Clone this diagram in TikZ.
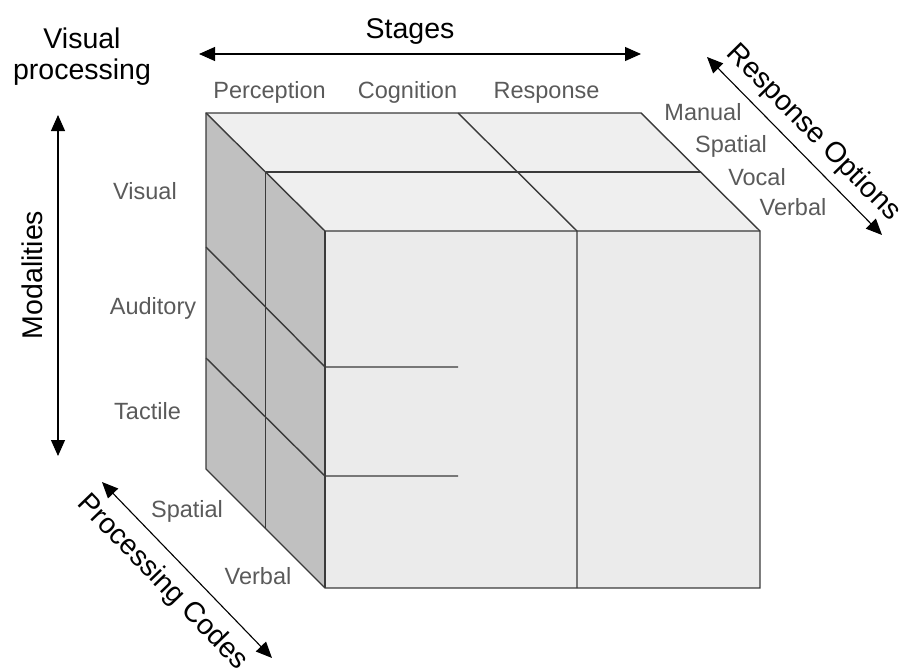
\documentclass[tikz,border=0pt]{standalone}
\usepackage{fontspec}
\setmainfont{Liberation Sans}
\usetikzlibrary{arrows.meta}
\definecolor{cubeline}{HTML}{3A3A3A}
\definecolor{labelgray}{HTML}{5A5A5A}
\definecolor{topface}{HTML}{EFEFEF}
\definecolor{sideface}{HTML}{C0C0C0}
\definecolor{frontface}{HTML}{EBEBEB}
\begin{document}
\begin{tikzpicture}[x=1pt,y=-1pt,
  edge/.style={draw=cubeline, line width=1.4pt, line join=miter},
  axis/.style={draw=black, line width=1.1pt,
    {Triangle[length=16pt,width=14pt]}-{Triangle[length=16pt,width=14pt]}},
  axislabel/.style={font=\fontsize{28.5}{31}\selectfont, text=black, inner sep=0pt},
  itemlabel/.style={font=\fontsize{23.5}{26}\selectfont, text=labelgray, anchor=base, inner sep=0pt}]
\useasboundingbox (0,0) rectangle (901,669);

% cube corners
\coordinate (B1) at (206,113);
\coordinate (B2) at (641,113);
\coordinate (F1) at (325,231);
\coordinate (F2) at (760,231);
\coordinate (F3) at (760,588);
\coordinate (F4) at (325,588);
\coordinate (B4) at (206,469);
% inner grid points
\coordinate (M1) at (265.5,172);
\coordinate (M2) at (700.5,172);
\coordinate (M4) at (265.5,528.5);
\coordinate (T1) at (458,113);
\coordinate (T2) at (577,231);
\coordinate (T3) at (577,588);
\coordinate (L1) at (206,247);
\coordinate (L2) at (325,367);
\coordinate (L3) at (206,358);
\coordinate (L4) at (325,476);
\coordinate (R1) at (458,367);
\coordinate (R2) at (458,476);

% faces
\fill[topface] (B1) -- (B2) -- (F2) -- (F1) -- cycle;
\fill[sideface] (B1) -- (F1) -- (F4) -- (B4) -- cycle;
\fill[frontface] (F1) -- (F2) -- (F3) -- (F4) -- cycle;

% grid lines
\draw[edge] (M1) -- (M2);
\draw[edge] (T1) -- (T2) -- (T3);
\draw[edge] (M1) -- (M4);
\draw[edge] (L1) -- (L2) -- (R1);
\draw[edge] (L3) -- (L4) -- (R2);

% outlines
\draw[edge] (B1) -- (B2) -- (F2) -- (F3) -- (F4) -- (B4) -- cycle;
\draw[edge] (B1) -- (F1) -- (F2);
\draw[edge] (F1) -- (F4);

% axes
\coordinate (stL) at (199,54);
\coordinate (stR) at (641,54);
\draw[axis] (stL) -- (stR);
\node[axislabel, anchor=base] (stages) at (410,38) {Stages};

\coordinate (moT) at (58,115);
\coordinate (moB) at (58,456);
\draw[axis] (moT) -- (moB);
\node[axislabel, rotate=90] (modalities) at (32.5,275) {Modalities};

\coordinate (pcT) at (102,482);
\coordinate (pcB) at (272,658);
\draw[axis] (pcT) -- (pcB)
  node[axislabel, midway, sloped, anchor=base, yshift=-34pt, xshift=-8pt] (codes) {Processing Codes};

\coordinate (roT) at (707,57);
\coordinate (roB) at (882,235);
\draw[axis] (roT) -- (roB)
  node[axislabel, midway, sloped, anchor=base, yshift=15pt, xshift=4pt] (options) {Response Options};

% two-line heading; base anchor sits on the last line
\node[axislabel, align=center, anchor=base] (vp) at (82,79) {Visual\\processing};

% stage labels
\node[itemlabel] (perc) at (269.5,98) {Perception};
\node[itemlabel] (cogn) at (407.5,98) {Cognition};
\node[itemlabel] (resp) at (546.5,98) {Response};

% modality labels
\node[itemlabel] (mvis) at (145,199) {Visual};
\node[itemlabel] (maud) at (153,314) {Auditory};
\node[itemlabel] (mtac) at (147.5,419) {Tactile};

% processing code labels
\node[itemlabel] (cspa) at (187,517) {Spatial};
\node[itemlabel] (cver) at (258,584) {Verbal};

% response option labels
\node[itemlabel] (oman) at (703,120) {Manual};
\node[itemlabel] (ospa) at (731,152) {Spatial};
\node[itemlabel] (ovoc) at (757,185) {Vocal};
\node[itemlabel] (over) at (793,215) {Verbal};
\end{tikzpicture}
\end{document}
